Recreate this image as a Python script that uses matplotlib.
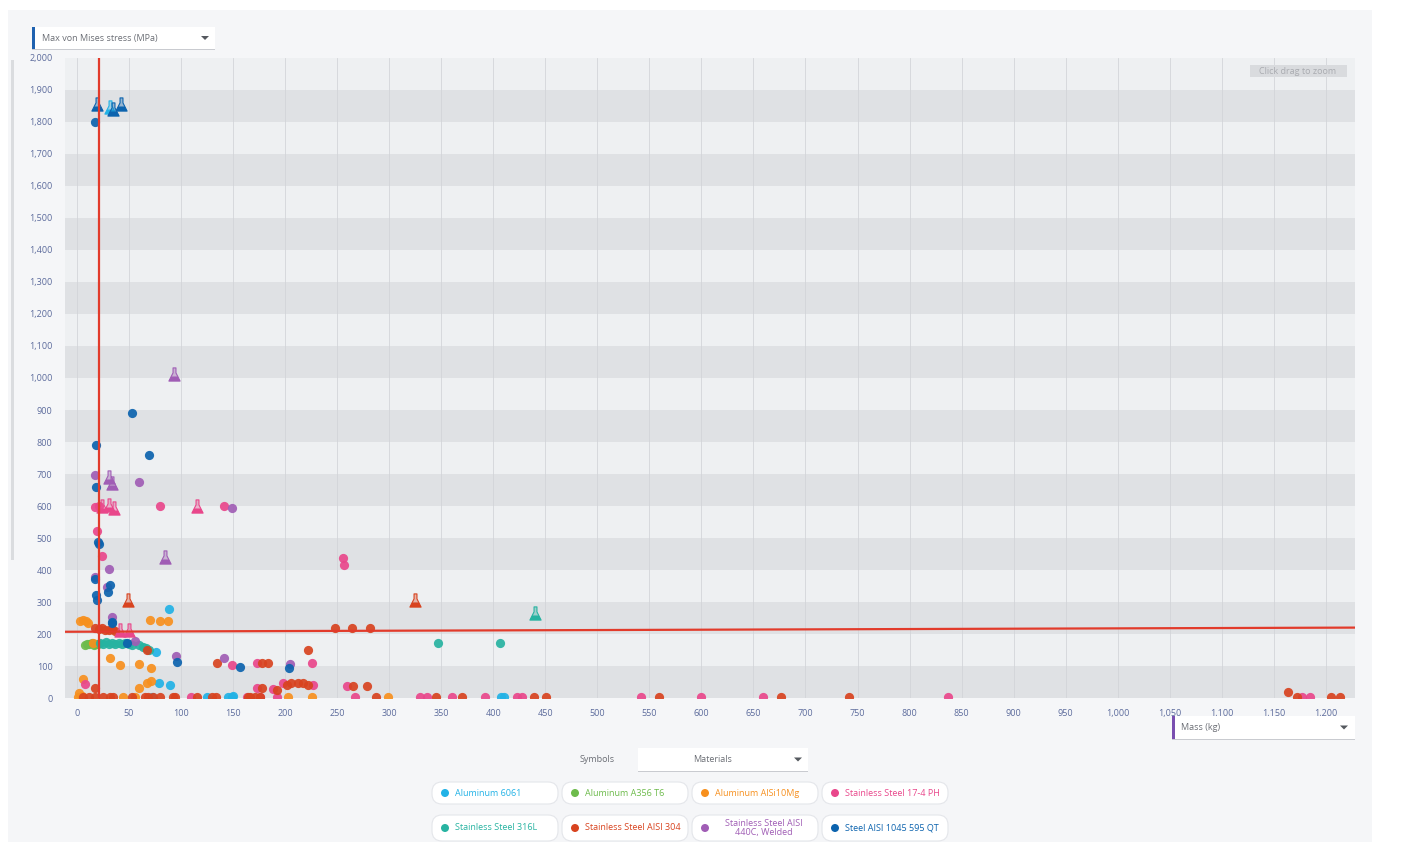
import matplotlib.pyplot as plt
import matplotlib as mpl
import numpy as np
from matplotlib.path import Path
from matplotlib.patches import FancyBboxPatch, Rectangle, Polygon

plt.rcParams['font.family'] = ['Open Sans', 'DejaVu Sans']

# ---- data: mass (kg) vs max von Mises stress (MPa) ----
materials = ['Aluminum 6061', 'Aluminum A356 T6', 'Aluminum AlSi10Mg',
             'Stainless Steel 17-4 PH', 'Stainless Steel 316L',
             'Stainless Steel AISI 304', 'Stainless Steel AISI\n440C, Welded',
             'Steel AISI 1045 595 QT']
colors = ['#22b2e6', '#6dbb4b', '#f7901e', '#e9478b',
          '#27b3a1', '#d8431f', '#a05db5', '#0c63ae']

al6061_x = [88, 76, 79, 89, 125, 145, 149, 150, 407, 410, 72]
al6061_y = [278, 144, 47, 41, 3, 3, 3, 6, 3, 3, 3]
al6061_fx = [32]
al6061_fy = [1848]

a356_x = [8, 10, 12, 14, 16, 18, 20]
a356_y = [165, 170, 168, 172, 166, 170, 168]
a356_fx = []
a356_fy = []

alsi_x = [6, 11, 70, 80, 87, 15, 32, 41, 60, 71, 6, 60, 67, 71, 1, 5, 44, 56,
          203, 226, 299, 9, 3, 2]
alsi_y = [244, 234, 244, 241, 241, 172, 125, 103, 106, 94, 59, 31, 47, 53, 3,
          5, 3, 3, 3, 3, 3, 240, 240, 15]
alsi_fx = []
alsi_fy = []

ph_x = [17, 21, 80, 141, 19, 24, 256, 257, 8, 110, 163, 176, 267, 330, 336,
        360, 392, 423, 428, 542, 600, 659, 837, 1177, 1185, 149, 173, 226,
        173, 188, 198, 227, 259, 192]
ph_y = [597, 600, 600, 600, 522, 444, 437, 416, 44, 3, 3, 3, 3, 3, 3, 3, 3,
        3, 3, 3, 3, 3, 3, 3, 3, 103, 109, 109, 32, 28, 47, 40, 38, 3]
ph_fx = [24, 31, 36, 115, 41, 50]
ph_fy = [600, 603, 594, 600, 214, 214]

ss316_x = [22, 25, 28, 31, 34, 37, 40, 43, 46, 50, 53, 60, 63, 66, 69, 347, 406]
ss316_y = [172, 168, 174, 170, 172, 168, 173, 170, 172, 168, 166, 165, 160,
           157, 150, 172, 172]
ss316_fx = [440]
ss316_fy = [265]

ss304_x = [17, 21, 24, 27, 31, 34, 37, 248, 264, 282,
           222, 67, 135, 178, 184, 17,
           178, 192, 202, 206, 212, 217, 222, 265, 279,
           6, 12, 17, 25, 32, 35, 53, 65, 68, 73, 80, 92, 94, 115, 130, 134,
           164, 171, 166, 176, 287, 345, 370, 439, 451, 559, 676, 742, 1164,
           1172, 1205, 1214]
ss304_y = [218, 216, 218, 214, 212, 216, 210, 218, 218, 218,
           150, 150, 109, 109, 109, 31,
           32, 25, 41, 47, 47, 47, 40, 38, 38,
           3, 3, 3, 3, 3, 3, 3, 3, 3, 3, 3, 3, 3, 3, 3, 3,
           3, 3, 3, 3, 3, 3, 3, 3, 3, 3, 3, 3, 18,
           3, 3, 3]
ss304_fx = [49, 325]
ss304_fy = [306, 306]

c440_x = [17, 60, 31, 17, 29, 34, 56, 95, 141, 205, 149]
c440_y = [697, 675, 403, 378, 347, 253, 178, 131, 125, 106, 594]
c440_fx = [31, 34, 93, 85]
c440_fy = [690, 672, 1012, 440]

st1045_x = [17, 18, 53, 69, 18, 20, 21, 17, 18, 19, 32, 30, 34, 34, 48, 96,
            157, 204]
st1045_y = [1800, 790, 890, 760, 660, 488, 481, 372, 322, 306, 353, 331, 234,
            238, 172, 113, 97, 94]
st1045_fx = [19, 35, 42]
st1045_fy = [1856, 1840, 1856]

series = [(al6061_x, al6061_y, al6061_fx, al6061_fy),
          (a356_x, a356_y, a356_fx, a356_fy),
          (alsi_x, alsi_y, alsi_fx, alsi_fy),
          (ph_x, ph_y, ph_fx, ph_fy),
          (ss316_x, ss316_y, ss316_fx, ss316_fy),
          (ss304_x, ss304_y, ss304_fx, ss304_fy),
          (c440_x, c440_y, c440_fx, c440_fy),
          (st1045_x, st1045_y, st1045_fx, st1045_fy)]

# threshold lines
mass_limit = 21
stress_line_x = [-11.5, 1228]
stress_line_y = [207, 220]

x_ticks = list(range(0, 1201, 50))
y_ticks = list(range(0, 2001, 100))

# ---- figure ----
W, H = 1407, 842
fig = plt.figure(figsize=(W / 100, H / 100), dpi=100, facecolor='white')


def P(x, y):
    return (x / 100, (H - y) / 100)


tr = fig.dpi_scale_trans
fig.add_artist(Rectangle(P(8, 842), 13.64, 8.32, transform=tr,
                         facecolor='#f5f6f8', edgecolor='none', zorder=-10))
fig.add_artist(Rectangle(P(11, 560), 0.03, 5.0, transform=tr,
                         facecolor='#dadcdf', edgecolor='none'))

ax = fig.add_axes([65 / W, 1 - 698 / H, 1290 / W, 640 / H])
ax.set_facecolor('#eef0f2')
ax.set_xlim(-11.5, 1228)
ax.set_ylim(0, 2000)
for s in ax.spines.values():
    s.set_visible(False)

for lo in range(0, 2000, 200):
    ax.axhspan(lo, lo + 100, color='#dfe1e4', lw=0, zorder=0)
for xv in x_ticks:
    ax.axvline(xv, color='#d3d5d9', lw=0.6, zorder=0.5)

ax.set_xticks(x_ticks)
ax.set_xticklabels([f'{v:,}' for v in x_ticks])
ax.set_yticks(y_ticks)
ax.set_yticklabels([f'{v:,}' for v in y_ticks])
ax.tick_params(length=0, labelsize=6.5, colors='#5c6b9c', pad=8)
ax.tick_params(axis='y', pad=9)

# markers
flask_v = np.array([(-0.22, 1), (0.22, 1), (0.22, 0.25), (0.85, -1),
                    (-0.85, -1), (-0.22, 0.25)])
liquid_v = np.array([(-0.5, -0.3), (0.5, -0.3), (0.85, -1), (-0.85, -1)])
flask = Path(np.vstack([flask_v, flask_v[:1]]), closed=True)
liquid = Path(np.vstack([liquid_v, liquid_v[:1]]), closed=True)

for (xs, ys, fx, fy), c in zip(series, colors):
    ax.scatter(xs, ys, s=44, color=c, alpha=0.92, lw=0, zorder=3)
    if fx:
        light = mpl.colors.to_rgba(c, 0.35)
        ax.scatter(fx, fy, s=90, marker=flask, facecolor=light,
                   edgecolor=c, lw=0.8, zorder=4)
        ax.scatter(fx, fy, s=90, marker=liquid, color=c, lw=0, zorder=4)

ax.axvline(mass_limit, color='#e23b2b', lw=1.6, zorder=5)
ax.plot(stress_line_x, stress_line_y, color='#e23b2b', lw=1.6, zorder=5)

# zoom hint
fig.add_artist(Rectangle(P(1250, 77), 0.97, 0.12, transform=tr,
                         facecolor='#d9dbde', edgecolor='none'))
fig.text(1298 / W, 1 - 71.5 / H, 'Click drag to zoom', ha='center',
         va='center', fontsize=6.5, color='#a9abb0')


def dropdown(x0, y0, x1, y1, text, bar, tx, arrow_x, center=False):
    fig.add_artist(Rectangle(P(x0, y1), (x1 - x0) / 100, (y1 - y0) / 100,
                             transform=tr, facecolor='white',
                             edgecolor='none'))
    fig.add_artist(Rectangle(P(x0, y1 + 1), (x1 - x0) / 100, 0.012,
                             transform=tr, facecolor='#c9cbd0',
                             edgecolor='none'))
    if bar:
        fig.add_artist(Rectangle(P(x0, y1), 0.025, (y1 - y0) / 100,
                                 transform=tr, facecolor=bar,
                                 edgecolor='none'))
    ym = (y0 + y1) / 2
    fig.text(tx / W, 1 - ym / H, text, ha='center' if center else 'left',
             va='center', fontsize=6.5, color='#6b6e75')
    fig.add_artist(Polygon([P(arrow_x - 4, ym - 2), P(arrow_x + 4, ym - 2),
                            P(arrow_x, ym + 2)], transform=tr,
                           facecolor='#55595f', edgecolor='none'))


dropdown(32, 27, 215, 49, 'Max von Mises stress (MPa)', '#1f62b0', 42, 205)
dropdown(1172, 716, 1355, 739, 'Mass (kg)', '#7a4fb0', 1181, 1344)
dropdown(638, 748, 808, 771, 'Materials', None, 713, 798, center=True)
fig.text(597 / W, 1 - 759.5 / H, 'Symbols', ha='center', va='center',
         fontsize=6.5, color='#6b6e75')

# legend pills
pill_x = [432, 562, 692, 822]
for i, (name, c) in enumerate(zip(materials, colors)):
    row, col = divmod(i, 4)
    yc = 793 if row == 0 else 828
    hgt = 22 if row == 0 else 26
    x0 = pill_x[col]
    fig.add_artist(FancyBboxPatch(P(x0, yc + hgt / 2), 1.26, hgt / 100,
                                  boxstyle='round,pad=0,rounding_size=0.1',
                                  transform=tr, facecolor='white',
                                  edgecolor='#e4e6ea', lw=0.8))
    fig.add_artist(mpl.patches.Circle(P(x0 + 13, yc), 0.04, transform=tr,
                                      facecolor=c, edgecolor='none'))
    if '\n' in name:
        fig.text((x0 + 72) / W, 1 - yc / H, name, ha='center', va='center',
                 fontsize=6.5, color=c, linespacing=1.0)
    else:
        fig.text((x0 + 23) / W, 1 - yc / H, name, ha='left', va='center',
                 fontsize=6.5, color=c)

fig.savefig('out.png', dpi=100)
